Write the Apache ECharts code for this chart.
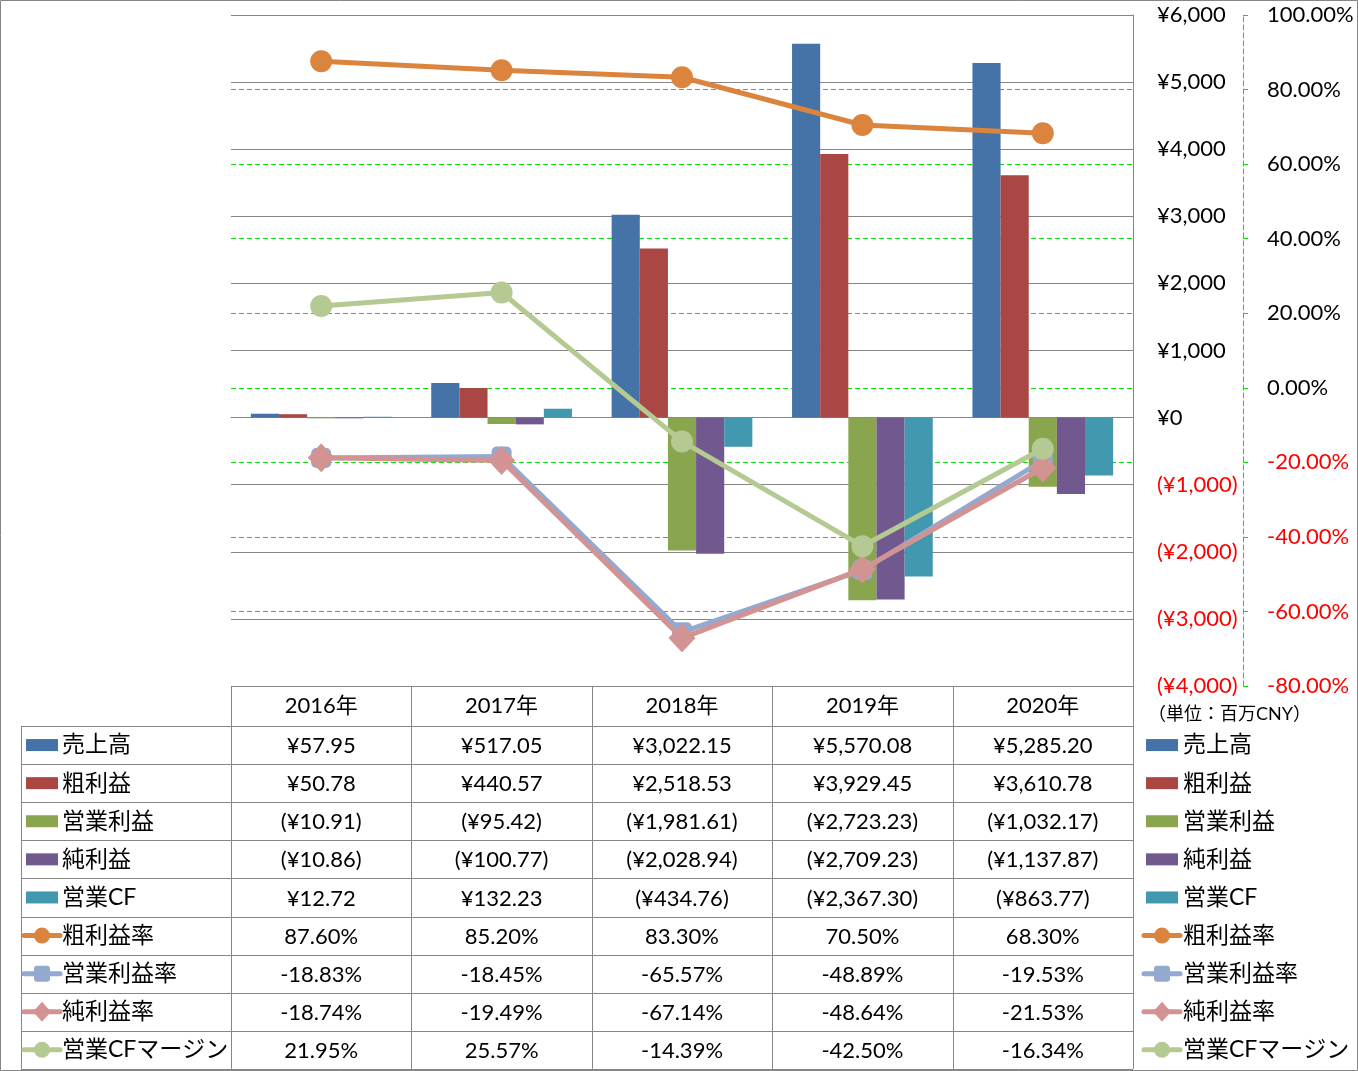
<!DOCTYPE html>
<html><head><meta charset="utf-8">
<script src="https://cdn.jsdelivr.net/npm/echarts@6/dist/echarts.min.js"></script>
<style>html,body{margin:0;padding:0;background:#fff}#c{width:1358px;height:1071px}</style>
</head><body><div id="c"></div>
<script>
// ---- data ----
const years = ['2016年', '2017年', '2018年', '2019年', '2020年'];
const sales = [57.95, 517.05, 3022.15, 5570.08, 5285.20];
const grossProfit = [50.78, 440.57, 2518.53, 3929.45, 3610.78];
const opProfit = [-10.91, -95.42, -1981.61, -2723.23, -1032.17];
const netProfit = [-10.86, -100.77, -2028.94, -2709.23, -1137.87];
const opCF = [12.72, 132.23, -434.76, -2367.30, -863.77];
const grossMargin = [87.60, 85.20, 83.30, 70.50, 68.30];
const opMargin = [-18.83, -18.45, -65.57, -48.89, -19.53];
const netMargin = [-18.74, -19.49, -67.14, -48.64, -21.53];
const cfMargin = [21.95, 25.57, -14.39, -42.50, -16.34];
const seriesNames = ['売上高', '粗利益', '営業利益', '純利益', '営業CF', '粗利益率', '営業利益率', '純利益率', '営業CFマージン'];
const unitLabel = '（単位：百万CNY）';

// ---- styles ----
const FONT = "Lato, 'Noto Sans CJK JP', sans-serif";
const colors = ['#4572A7', '#AA4643', '#89A54E', '#71588F', '#4198AF', '#DB843D', '#93A9CF', '#D39392', '#B5CA92'];
const symbols = [null, null, null, null, null, 'circle', 'roundRect', 'diamond', 'circle'];
const gridCol = '#868686';
const green = '#00E400';
const NONE = 'rgba(0,0,0,0)';

function money(v, dec) {
  const s = Math.abs(v).toLocaleString('en-US', {minimumFractionDigits: dec, maximumFractionDigits: dec});
  if (v < 0) return '(¥' + s + ')';
  return '¥' + s;
}
function pct(v) { return v.toFixed(2) + '%'; }

const barData = [sales, grossProfit, opProfit, netProfit, opCF];
const lineData = [grossMargin, opMargin, netMargin, cfMargin];

const series = [];
barData.forEach((d, i) => series.push({
  name: seriesNames[i], type: 'bar', yAxisIndex: 0, data: d,
  barGap: '0%', barCategoryGap: '22%',
  itemStyle: {color: colors[i]}
}));
const symSizes = [22, 20, [27, 29], 22];
lineData.forEach((d, j) => {
  const i = j + 5;
  series.push({
    name: seriesNames[i], type: 'line', yAxisIndex: 1, data: d,
    symbol: symbols[i], symbolSize: symSizes[j], showSymbol: true,
    lineStyle: {color: colors[i], width: 5},
    itemStyle: {color: colors[i], borderWidth: 0},
    z: 3 + j
  });
});

// ---- table & legends (graphic) ----
const G = [];
const L = 231, R = 1133, TOP = 686, HEAD_B = 726, ROWH = 38.1, LEFTX = 21;
const colW = (R - L) / years.length;
function hline(x1, x2, y) { G.push({type: 'line', silent: true, z: 100, shape: {x1, y1: Math.round(y) + 0.5, x2, y2: Math.round(y) + 0.5}, style: {stroke: gridCol, lineWidth: 1}}); }
function vline(x, y1, y2) { G.push({type: 'line', silent: true, z: 100, shape: {x1: Math.round(x) + 0.5, y1, x2: Math.round(x) + 0.5, y2}, style: {stroke: gridCol, lineWidth: 1}}); }
function text(t, x, y, align, size, color) {
  G.push({type: 'text', silent: true, z: 100, x, y, style: {text: t, align: align, verticalAlign: 'middle', font: size + 'px ' + FONT, fill: color || '#000'}});
}
const rows = seriesNames.length;
const bottom = HEAD_B + rows * ROWH;
hline(L, R, TOP - 0.5);
for (let k = 0; k <= rows; k++) hline(LEFTX, R, HEAD_B + k * ROWH);
vline(LEFTX, HEAD_B, bottom);
for (let c = 0; c <= years.length; c++) vline(L + c * colW, TOP, bottom);
years.forEach((y, c) => text(y, L + (c + 0.5) * colW, 706, 'center', 22));
const allData = barData.concat(lineData);
allData.forEach((d, k) => {
  const cy = HEAD_B + (k + 0.5) * ROWH;
  d.forEach((v, c) => text(k < 5 ? money(v, 2) : pct(v), L + (c + 0.5) * colW, cy + 1, 'center', 22));
});

function legendKey(k, x0, w, cy) {
  const col = colors[k];
  if (k < 5) {
    G.push({type: 'rect', silent: true, z: 100, shape: {x: x0, y: cy - 6, width: w, height: 12}, style: {fill: col}});
  } else {
    G.push({type: 'line', silent: true, z: 100, shape: {x1: x0 - 2, y1: cy, x2: x0 + w + 2, y2: cy}, style: {stroke: col, lineWidth: 5, lineCap: 'round'}});
    const cx = x0 + w / 2;
    const s = symbols[k];
    if (s === 'circle') G.push({type: 'circle', silent: true, z: 101, shape: {cx, cy, r: 8}, style: {fill: col}});
    else if (s === 'roundRect') G.push({type: 'rect', silent: true, z: 101, shape: {x: cx - 8, y: cy - 8, width: 16, height: 16, r: 3}, style: {fill: col}});
    else G.push({type: 'polygon', silent: true, z: 101, shape: {points: [[cx, cy - 10], [cx + 9, cy], [cx, cy + 10], [cx - 9, cy]]}, style: {fill: col}});
  }
}
seriesNames.forEach((n, k) => {
  const cy = HEAD_B + (k + 0.5) * ROWH;
  legendKey(k, 26, 32, cy);
  text(n, 62, cy, 'left', 23);
  legendKey(k, 1146, 32, cy);
  text(n, 1183, cy, 'left', 23);
});
text(unitLabel, 1148, 714, 'left', 18);
G.push({type: 'rect', silent: true, z: 100, shape: {x: 0.5, y: 0.5, width: 1357, height: 1070}, style: {fill: 'none', stroke: gridCol, lineWidth: 1}});

const option = {
  animation: false,
  backgroundColor: '#fff',
  textStyle: {fontFamily: FONT},
  grid: {left: L, top: 15, width: R - L, height: 671, containLabel: false},
  xAxis: {
    type: 'category', data: years, boundaryGap: true,
    axisLine: {show: true, onZero: true, onZeroAxisIndex: 0, lineStyle: {color: gridCol, width: 1}},
    axisTick: {show: false}, axisLabel: {show: false}, splitLine: {show: false}
  },
  yAxis: [{
    type: 'value', position: 'right', min: -4000, max: 6000, interval: 1000,
    axisLine: {show: true, lineStyle: {color: gridCol}},
    axisTick: {show: false},
    splitLine: {show: true, lineStyle: {color: gridCol, width: 1}},
    axisLabel: {
      margin: 24, fontSize: 22, fontFamily: FONT, color: '#000', align: 'left',
      formatter: v => v < 0 ? '{r|' + money(v, 0) + '}' : money(v, 0),
      rich: {r: {color: '#FF0000', fontSize: 22, fontFamily: FONT}}
    }
  }, {
    type: 'value', position: 'right', offset: 110, min: -80, max: 100, interval: 20,
    axisLine: {show: true, lineStyle: {color: green, type: [5, 3]}},
    axisTick: {show: true, length: 8, lineStyle: {color: green, type: [5, 3]}},
    splitLine: {show: true, lineStyle: {color: [NONE, green, green, green, green, green, green, green, green, NONE], type: [5, 3], width: 1}},
    axisLabel: {
      margin: 24, fontSize: 22, fontFamily: FONT, color: '#000', align: 'left',
      formatter: v => v < 0 ? '{r|' + pct(v) + '}' : pct(v),
      rich: {r: {color: '#FF0000', fontSize: 22, fontFamily: FONT}}
    }
  }],
  series: series,
  graphic: {elements: G}
};
const chart = echarts.init(document.getElementById('c'), null, {renderer: 'canvas'});
chart.setOption(option);
</script></body></html>
